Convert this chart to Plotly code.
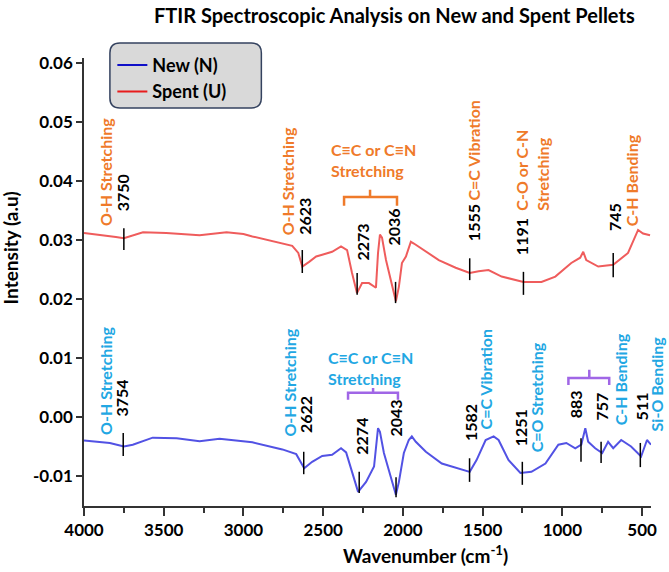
import plotly.graph_objects as go

# ---------------- data ----------------
spent_wn = [4000, 3900, 3800, 3750, 3694, 3630, 3484, 3375, 3275, 3106, 3000, 2944, 2850, 2756,
            2694, 2656, 2631, 2588, 2544, 2506, 2444, 2388, 2350, 2319, 2288, 2256, 2213, 2169,
            2156, 2144, 2131, 2106, 2069, 2044, 2025, 2006, 1981, 1950, 1931, 1856, 1775, 1669,
            1581, 1525, 1463, 1381, 1244, 1131, 1044, 944, 888, 869, 850, 775, 681, 588, 525,
            494, 450]
spent_int = [0.0312, 0.0309, 0.0305, 0.0303, 0.0308, 0.0313, 0.0312, 0.0310, 0.0308, 0.0313,
             0.0310, 0.0306, 0.0300, 0.0295, 0.0290, 0.0278, 0.0255, 0.0263, 0.0272, 0.0275,
             0.0280, 0.0289, 0.0283, 0.0244, 0.0210, 0.0227, 0.0227, 0.0219, 0.0278, 0.0309,
             0.0304, 0.0266, 0.0221, 0.0196, 0.0221, 0.0261, 0.0272, 0.0297, 0.0294, 0.0280,
             0.0266, 0.0253, 0.0244, 0.0247, 0.0249, 0.0238, 0.0229, 0.0229, 0.0238, 0.0261,
             0.0270, 0.0280, 0.0266, 0.0255, 0.0258, 0.0278, 0.0317, 0.0311, 0.0308]

new_wn = [4000, 3838, 3750, 3694, 3569, 3419, 3275, 3150, 2944, 2756, 2669, 2644, 2619, 2569,
          2506, 2444, 2388, 2356, 2319, 2281, 2231, 2181, 2156, 2144, 2119, 2075, 2044, 2025,
          1994, 1963, 1944, 1919, 1856, 1756, 1650, 1581, 1538, 1481, 1431, 1400, 1338, 1263,
          1194, 1106, 1025, 975, 919, 881, 856, 838, 794, 750, 713, 681, 631, 569, 506, 469, 444]
new_int = [-0.0040, -0.0044, -0.0050, -0.0047, -0.0035, -0.0036, -0.0041, -0.0037, -0.0043,
           -0.0055, -0.0063, -0.0076, -0.0087, -0.0076, -0.0066, -0.0064, -0.0053, -0.0060,
           -0.0095, -0.0127, -0.0110, -0.0084, -0.0019, -0.0025, -0.0061, -0.0101, -0.0132,
           -0.0110, -0.0061, -0.0039, -0.0033, -0.0042, -0.0059, -0.0079, -0.0087, -0.0093,
           -0.0073, -0.0039, -0.0033, -0.0039, -0.0073, -0.0095, -0.0093, -0.0079, -0.0047,
           -0.0044, -0.0053, -0.0047, -0.0019, -0.0042, -0.0053, -0.0061, -0.0042, -0.0053,
           -0.0039, -0.0050, -0.0067, -0.0039, -0.0047]

# peak marks: position on the axis, mark bottom, mark top
spent_peak_pos = [3750, 2631, 2287, 2046, 1581, 1244, 681]
spent_peak_lo = [0.0283, 0.0244, 0.0207, 0.0193, 0.0232, 0.0207, 0.0237]
spent_peak_hi = [0.0320, 0.0283, 0.0244, 0.0229, 0.0269, 0.0246, 0.0278]

new_peak_pos = [3754, 2622, 2274, 2043, 1582, 1251, 883, 757, 511]
new_peak_lo = [-0.0066, -0.0097, -0.0129, -0.0136, -0.0110, -0.0115, -0.0076, -0.0078, -0.0085]
new_peak_hi = [-0.0027, -0.0059, -0.0093, -0.0102, -0.0070, -0.0076, -0.0036, -0.0042, -0.0044]

y_tick_vals = [-0.01, 0.0, 0.01, 0.02, 0.03, 0.04, 0.05, 0.06]
y_tick_text = ["-0.01", "0.00", "0.01", "0.02", "0.03", "0.04", "0.05", "0.06"]
x_tick_vals = [4000, 3500, 3000, 2500, 2000, 1500, 1000, 500]
x_tick_text = ["4000", "3500", "3000", "2500", "2000", "1500", "1000", "500"]

# ---------------- styles ----------------
FONT = "Lato"
ORANGE = "#ef7a2a"
CYAN = "#22a7e3"
PURPLE = "#a066e6"
RED_LINE = "#ef5c5c"
BLUE_LINE = "#5252e4"

fig = go.Figure()
fig.add_trace(go.Scatter(x=spent_wn, y=spent_int, mode="lines",
                         line=dict(color=RED_LINE, width=2), showlegend=False))
fig.add_trace(go.Scatter(x=new_wn, y=new_int, mode="lines",
                         line=dict(color=BLUE_LINE, width=2), showlegend=False))
# legend entries
fig.add_trace(go.Scatter(x=[None], y=[None], mode="lines", name="New (N)",
                         line=dict(color="#1010c8", width=2)))
fig.add_trace(go.Scatter(x=[None], y=[None], mode="lines", name="Spent (U)",
                         line=dict(color="#e81c1c", width=2)))

shapes = []
for p, lo, hi in zip(spent_peak_pos + new_peak_pos, spent_peak_lo + new_peak_lo,
                     spent_peak_hi + new_peak_hi):
    shapes.append(dict(type="line", xref="x", yref="y", x0=p, x1=p, y0=lo, y1=hi,
                       line=dict(color="black", width=1.5)))


def bracket(x0, x1, xm, y, yend, ynub, color):
    return dict(type="path", xref="x", yref="y",
                path=f"M {x0},{yend} L {x0},{y} L {x1},{y} L {x1},{yend} M {xm},{y} L {xm},{ynub}",
                line=dict(color=color, width=2.5))


shapes.append(bracket(2369, 2037, 2206, 0.0373, 0.0358, 0.0385, ORANGE))
shapes.append(bracket(2344, 2031, 2187, 0.0041, 0.0029, 0.0049, PURPLE))
shapes.append(bracket(962, 706, 831, 0.0066, 0.0054, 0.0080, PURPLE))


# rounded legend box (paper coords)
def rounded_rect(x0, y0, x1, y1, rx, ry):
    return (f"M {x0+rx},{y1} L {x1-rx},{y1} Q {x1},{y1} {x1},{y1-ry} L {x1},{y0+ry} "
            f"Q {x1},{y0} {x1-rx},{y0} L {x0+rx},{y0} Q {x0},{y0} {x0},{y0+ry} "
            f"L {x0},{y1-ry} Q {x0},{y1} {x0+rx},{y1} Z")


shapes.append(dict(type="path", xref="paper", yref="paper", layer="below",
                   path=rounded_rect(0.0457, 0.8884, 0.3128, 1.0335, 0.0176, 0.0223),
                   fillcolor="#d9d9d9", line=dict(color="#34425f", width=1.5)))

annotations = []


def rot(x, y, text, color, size=16, xref="x"):
    annotations.append(dict(x=x, y=y, xref=xref, yref="y", text=text, textangle=-90,
                            showarrow=False, xanchor="center", yanchor="bottom", align="left",
                            font=dict(family=FONT, size=size, color=color, weight="bold")))


def horiz(x, y, text, color, size=16):
    annotations.append(dict(x=x, y=y, xref="x", yref="y", text=text, showarrow=False,
                            xanchor="left", yanchor="middle", align="left",
                            font=dict(family=FONT, size=size, color=color, weight="bold")))


# spent (upper) labels
rot(3869, 0.0320, "O-H Stretching", ORANGE)
rot(3762, 0.0346, "3750", "black")
rot(2725, 0.0305, "O-H Stretching", ORANGE)
rot(2619, 0.0305, "2623", "black")
horiz(2462, 0.0435, "C≡C or C≡N<br>Stretching", ORANGE)
rot(2256, 0.0261, "2273", "black")
rot(2056, 0.0288, "2036", "black")
rot(1556, 0.0295, "1555", "black")
rot(1556, 0.0363, "C=C Vibration", ORANGE)
rot(1256, 0.0271, "1191", "black")
rot(1191, 0.0347, "C-O or C-N<br>Stretching", ORANGE)
rot(669, 0.0312, "745", "black")
rot(569, 0.0320, "C-H Bending", ORANGE)

# new (lower) labels
rot(3869, -0.0034, "O-H Stretching", CYAN)
rot(3762, -0.0002, "3754", "black")
rot(2712, -0.0036, "O-H Stretching", CYAN)
rot(2612, -0.0031, "2622", "black")
horiz(2481, 0.0083, "C≡C or C≡N<br>Stretching", CYAN)
rot(2262, -0.0068, "2274", "black")
rot(2044, -0.0036, "2043", "black")
rot(1575, -0.0044, "1582", "black")
rot(1481, -0.0025, "C=C Vibration", CYAN)
rot(1262, -0.0053, "1251", "black")
rot(1162, -0.0064, "C=O Stretching", CYAN)
rot(912, -0.0005, "883", "black")
rot(756, -0.0009, "757", "black")
rot(637, -0.0017, "C-H Bending", CYAN)
rot(506, -0.0009, "511", "black")
# this label sits just past the right end of the axis, so place it in paper x
rot(1.0088, -0.0027, "Si-O Bending", CYAN, xref="paper")

# title & axis titles
annotations.append(dict(x=0.548, y=1.095, xref="paper", yref="paper", showarrow=False,
                        text="FTIR Spectroscopic Analysis on New and Spent Pellets",
                        xanchor="center", yanchor="middle",
                        font=dict(family=FONT, size=20, color="black", weight="bold")))
annotations.append(dict(x=0.603, y=-0.109, xref="paper", yref="paper", showarrow=False,
                        text="Wavenumber (cm<sup>-1</sup>)", xanchor="center", yanchor="middle",
                        font=dict(family=FONT, size=19, color="black", weight="bold")))
annotations.append(dict(x=-0.128, y=0.576, xref="paper", yref="paper", showarrow=False,
                        text="Intensity (a.u)", textangle=-90, xanchor="center", yanchor="middle",
                        font=dict(family=FONT, size=19, color="black", weight="bold")))

fig.update_layout(
    width=669, height=572,
    margin=dict(l=84, r=16, t=58, b=66),
    paper_bgcolor="white", plot_bgcolor="white",
    shapes=shapes, annotations=annotations,
    legend=dict(x=0.05, y=1.025, xanchor="left", yanchor="top", bgcolor="rgba(0,0,0,0)",
                borderwidth=0, font=dict(family=FONT, size=18, color="black", weight="bold"),
                tracegroupgap=0),
    font=dict(family=FONT, color="black"),
)
fig.update_xaxes(range=[4000, 444], tickvals=x_tick_vals, ticktext=x_tick_text,
                 ticks="outside", ticklen=8, tickwidth=1.5, tickcolor="#333",
                 minor=dict(dtick=250, ticks="outside", ticklen=5, tickwidth=1.5, tickcolor="#333"),
                 showline=True, linecolor="#333", linewidth=1.5, showgrid=False, zeroline=False,
                 tickfont=dict(family=FONT, size=17, color="black", weight="bold"))
fig.update_yaxes(range=[-0.01509, 0.06085], tickvals=y_tick_vals, ticktext=y_tick_text,
                 ticks="outside", ticklen=6, tickwidth=1.5, tickcolor="#333",
                 showline=True, linecolor="#333", linewidth=1.5, showgrid=False, zeroline=False,
                 tickfont=dict(family=FONT, size=17, color="black", weight="bold"))

fig.write_html("out.html")
